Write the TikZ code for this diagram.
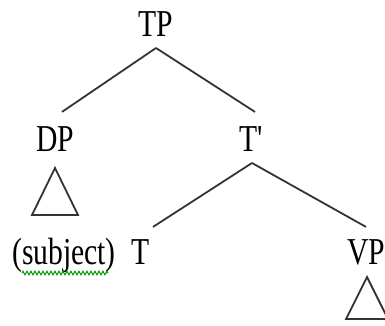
\documentclass[tikz,border=0pt]{standalone}
\usepackage{fontspec}
\setmainfont[FakeStretch=0.78]{Liberation Serif}
\usetikzlibrary{decorations.pathmorphing}
\begin{document}
\begin{tikzpicture}[x=1pt,y=-1pt,
  lbl/.style={inner sep=0pt,anchor=base,font=\fontsize{38}{40}\selectfont,text=black},
  edge/.style={line width=1.8pt,draw=black!80},
  tri/.style={line width=1.8pt,draw=black!80,line join=miter}]
\useasboundingbox (0,0) rectangle (385,326);
\node[lbl] (TP) at (156,37) {TP};
\node[lbl] (DP) at (55,151) {DP};
\node[lbl] (Tb) at (252,151) {T\textquotesingle};
\node[lbl] (subj) at (64,264) {(subject)};
\node[lbl] (T) at (141,264) {T};
\node[lbl] (VP) at (366,264) {VP};
\coordinate (TPs) at ([yshift=-11pt]TP.base);
\coordinate (DPn) at ([xshift=7pt,yshift=14pt]DP.north);
\coordinate (Tbn) at ([xshift=3pt,yshift=14pt]Tb.north);
\coordinate (Tbs) at ([yshift=-12pt]Tb.base);
\coordinate (Tn) at ([xshift=12pt,yshift=12pt]T.north);
\coordinate (VPn) at ([yshift=12pt]VP.north);
\draw[edge] (TPs) -- (DPn);
\draw[edge] (TPs) -- (Tbn);
\draw[edge] (Tbs) -- (Tn);
\draw[edge] (Tbs) -- (VPn);
% triangles
\draw[tri] ([yshift=-17pt]DP.base) -- ++(23,47) -- ++(-46,0) -- cycle;
\draw[tri] ([xshift=1pt,yshift=-13pt]VP.base) -- ++(21,42) -- ++(-42,0) -- cycle;
% spell-check underline
\draw[green!60!black,line width=1pt,decorate,decoration={zigzag,amplitude=1.8pt,segment length=4pt}]
  ([xshift=10pt,yshift=-9pt]subj.base west) -- ([xshift=-8pt,yshift=-9pt]subj.base east);
\end{tikzpicture}
\end{document}
